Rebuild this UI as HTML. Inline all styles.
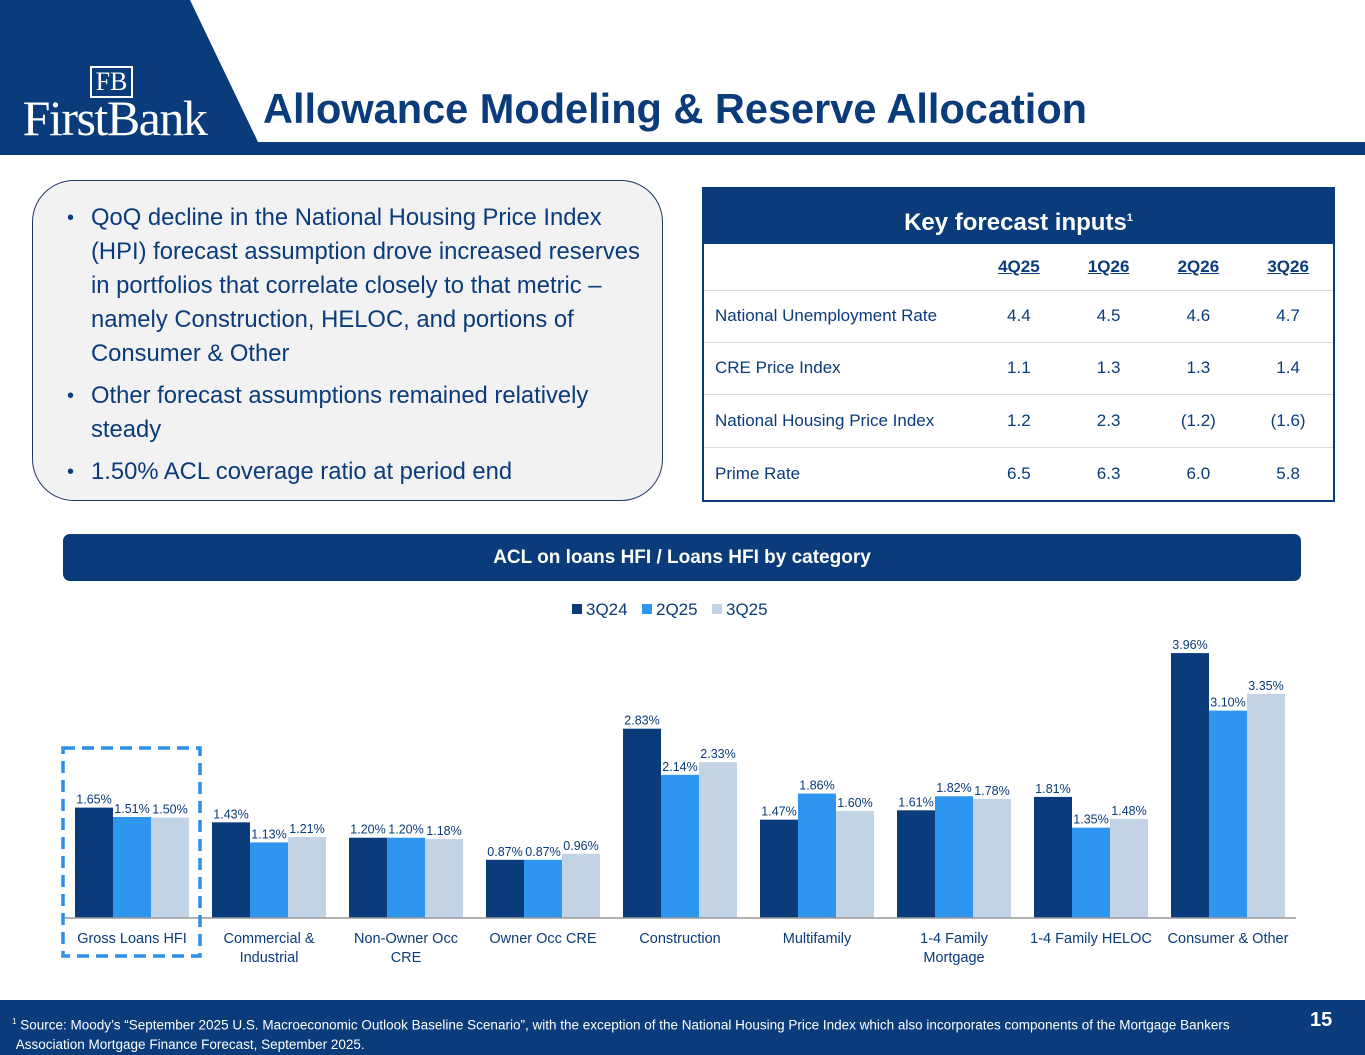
<!DOCTYPE html>
<html><head><meta charset="utf-8"><style>
*{margin:0;padding:0;box-sizing:border-box}
body{width:1365px;height:1055px;position:relative;background:#fff;font-family:"Liberation Sans",Arial,sans-serif;overflow:hidden}
.abs{position:absolute}
table{border-collapse:collapse}
.b{position:relative;white-space:nowrap;font-size:23.8px}
.b span{position:absolute;left:-24px;font-size:20px}
</style></head><body>
<svg class="abs" style="left:0;top:0" width="1365" height="160">
<polygon points="0,0 190,0 258,142 1365,142 1365,155 0,155" fill="#0a3b7a"/>
</svg>
<div class="abs" style="left:12px;top:66px;width:205px;height:74px;color:#fff;font-family:'Liberation Serif',serif;text-align:center">
 <div style="display:inline-block;border:2px solid #fff;padding:0 4px;font-size:26px;line-height:28px;margin-left:-6px">FB</div>
 <div style="font-size:50px;line-height:40px;letter-spacing:-1.5px">FirstBank</div>
</div>
<div class="abs" style="left:263px;top:85px;font-size:41.5px;font-weight:bold;color:#0a3b7a">Allowance Modeling &amp; Reserve Allocation</div>

<div class="abs" style="left:32px;top:180px;width:631px;height:321px;background:#f2f2f2;border:1.5px solid #1f3864;border-radius:42px;padding:20px 10px 0 58px;line-height:34px;color:#0a3b7a">
 <div class="b" style="margin-bottom:8px"><span>•</span>QoQ decline in the National Housing Price Index<br>(HPI) forecast assumption drove increased reserves<br>in portfolios that correlate closely to that metric –<br>namely Construction, HELOC, and portions of<br>Consumer &amp; Other</div>
 <div class="b" style="margin-bottom:8px"><span>•</span>Other forecast assumptions remained relatively<br>steady</div>
 <div class="b"><span>•</span>1.50% ACL coverage ratio at period end</div>
</div>

<div class="abs" style="left:702px;top:187px;width:633px;height:315px;border:2px solid #0a3b7a;font-size:17px;color:#0a3b7a">
 <div style="height:55px;background:#0a3b7a;color:#fff;font-size:24px;font-weight:bold;text-align:center;line-height:58px">Key forecast inputs<sup style="font-size:11px">1</sup></div>
 <table style="width:100%">
  <tr style="height:46px;font-weight:bold"><td style="width:270px"></td><td style="text-align:center;text-decoration:underline">4Q25</td><td style="text-align:center;text-decoration:underline">1Q26</td><td style="text-align:center;text-decoration:underline">2Q26</td><td style="text-align:center;text-decoration:underline">3Q26</td></tr>
  <tr style="height:52px;border-top:1px solid #d9d9d9"><td style="padding-left:11px">National Unemployment Rate</td><td style="text-align:center">4.4</td><td style="text-align:center">4.5</td><td style="text-align:center">4.6</td><td style="text-align:center">4.7</td></tr>
  <tr style="height:52px;border-top:1px solid #d9d9d9"><td style="padding-left:11px">CRE Price Index</td><td style="text-align:center">1.1</td><td style="text-align:center">1.3</td><td style="text-align:center">1.3</td><td style="text-align:center">1.4</td></tr>
  <tr style="height:53px;border-top:1px solid #d9d9d9"><td style="padding-left:11px">National Housing Price Index</td><td style="text-align:center">1.2</td><td style="text-align:center">2.3</td><td style="text-align:center">(1.2)</td><td style="text-align:center">(1.6)</td></tr>
  <tr style="height:54px;border-top:1px solid #d9d9d9"><td style="padding-left:11px">Prime Rate</td><td style="text-align:center">6.5</td><td style="text-align:center">6.3</td><td style="text-align:center">6.0</td><td style="text-align:center">5.8</td></tr>
 </table>
</div>

<div class="abs" style="left:63px;top:534px;width:1238px;height:47px;background:#0a3b7a;border-radius:7px;color:#fff;font-size:19px;font-weight:bold;text-align:center;line-height:48px">ACL on loans HFI / Loans HFI by category</div>

<svg id="chart" class="abs" style="left:0;top:590px" width="1365" height="400"></svg>

<div class="abs" style="left:0;top:1000px;width:1365px;height:55px;background:#0a3b7a;color:#fff">
 <div style="position:absolute;left:12px;top:12px;font-size:13.5px;line-height:19px;width:1262px"><sup style="font-size:8px">1</sup> Source: Moody’s “September 2025 U.S. Macroeconomic Outlook Baseline Scenario”, with the exception of the National Housing Price Index which also incorporates components of the Mortgage Bankers<br>&nbsp;Association Mortgage Finance Forecast, September 2025.</div>
 <div style="position:absolute;left:1310px;top:9px;font-size:20px;font-weight:bold">15</div>
</div>

<script>
const categories=[["Gross Loans HFI"],["Commercial &","Industrial"],["Non-Owner Occ","CRE"],["Owner Occ CRE"],["Construction"],["Multifamily"],["1-4 Family","Mortgage"],["1-4 Family HELOC"],["Consumer & Other"]];
const seriesNames=["3Q24","2Q25","3Q25"];
const s3Q24=[1.65,1.43,1.20,0.87,2.83,1.47,1.61,1.81,3.96];
const s2Q25=[1.51,1.13,1.20,0.87,2.14,1.86,1.82,1.35,3.10];
const s3Q25=[1.50,1.21,1.18,0.96,2.33,1.60,1.78,1.48,3.35];
const series=[s3Q24,s2Q25,s3Q25];
const colors=["#0a3b7a","#2e96ee","#c2d3e6"];
const NS="http://www.w3.org/2000/svg";
const svg=document.getElementById('chart');
const base=328, pxPer=66.9, gx0=75, gw=137, bw=38;
const yScale=v=>base-v*pxPer;
const xBar=(g,s)=>gx0+g*gw+s*bw;
function mk(t,a){const e=document.createElementNS(NS,t);for(const k in a)e.setAttribute(k,a[k]);svg.appendChild(e);return e;}
seriesNames.forEach((n,i)=>{
 const x=572+i*70;
 const r=mk('rect',{x:x,y:14,width:10,height:10,fill:colors[i]});
 
 
 const t=mk('text',{x:x+14,y:25,'font-size':17,fill:'#0a3b7a'});t.textContent=n;
 
 
});
series.forEach((vals,s)=>{
 vals.forEach((v,g)=>{
  const x=xBar(g,s),y=yScale(v);
  const r=mk('rect',{x:x,y:y,width:bw,height:base-y,fill:colors[s]});
  
  
  const t=mk('text',{x:x+bw/2,y:y-4,'font-size':12.5,fill:'#0a3b7a','text-anchor':'middle'});
  t.textContent=v.toFixed(2)+'%';
  
  
 });
});
const ax=mk('line',{x1:63,x2:1296,y1:base,y2:base,stroke:'#999','stroke-width':1.5});


categories.forEach((c,g)=>{
 const cx=gx0+g*gw+bw*1.5;
 c.forEach((ln,j)=>{
  const t=mk('text',{x:cx,y:base+25+j*19,'font-size':14.5,fill:'#0a3b7a','text-anchor':'middle'});
  t.textContent=ln;
  
  
 });
});
const hl=mk('rect',{x:63,y:158,width:137,height:208,fill:'none',stroke:'#2e8ee8','stroke-width':3.5,'stroke-dasharray':'12 7'});


</script>
</body></html>
